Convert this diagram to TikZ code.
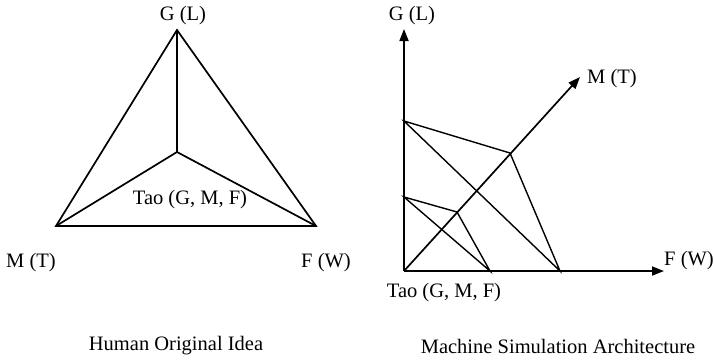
\documentclass[tikz,border=0pt]{standalone}
\usepackage{fontspec}
\setmainfont{Liberation Serif}
\usetikzlibrary{arrows.meta}
\begin{document}
\begin{tikzpicture}[x=1pt,y=-1pt,
  edge/.style={line width=1.7pt, line join=miter},
  thin/.style={line width=1.4pt},
  axis/.style={line width=1.7pt,-{Triangle[length=12pt,width=9pt]}},
  lbl/.style={font=\fontsize{20.5}{24}\selectfont, inner sep=0pt}]
\useasboundingbox (0,0) rectangle (714,362);
% left triangle
\coordinate (G) at (177,30);
\coordinate (C) at (177,152);
\coordinate (M) at (56,226);
\coordinate (F) at (316,226);
\draw[edge] (G) -- (M) -- (F) -- cycle;
\draw[edge] (G) -- (C);
\draw[edge] (M) -- (C) -- (F);
\node[lbl] (gl) at (183,16) {G (L)};
\node[lbl] (mt) at (31,263) {M (T)};
\node[lbl] (fw) at (326,263) {F (W)};
\node[lbl] (tao) at (190,200) {Tao (G, M, F)};
\node[lbl] (cap1) at (176,346) {Human Original Idea};
% right axes
\coordinate (O) at (404,271);
\coordinate (Ytip) at (404,29);
\coordinate (Xtip) at (664,271);
\coordinate (Mtip) at (580,77);
\draw[axis] (O) -- (Ytip);
\draw[axis] (O) -- (Xtip);
\draw[axis] (O) -- (Mtip);
\coordinate (G1) at (404,121);
\coordinate (M1) at (510,153);
\coordinate (F1) at (560,271);
\coordinate (G2) at (404,197);
\coordinate (M2) at (457,212);
\coordinate (F2) at (490,271);
\draw[thin] (G1) -- (M1) -- (F1) -- cycle;
\draw[thin] (G2) -- (M2) -- (F2) -- cycle;
\node[lbl] (gl2) at (412,16) {G (L)};
\node[lbl] (mt2) at (612,79) {M (T)};
\node[lbl] (fw2) at (689,261) {F (W)};
\node[lbl] (tao2) at (444,293) {Tao (G, M, F)};
\node[lbl] (cap2) at (558,346) {Machine Simulation Architecture};
\end{tikzpicture}
\end{document}
